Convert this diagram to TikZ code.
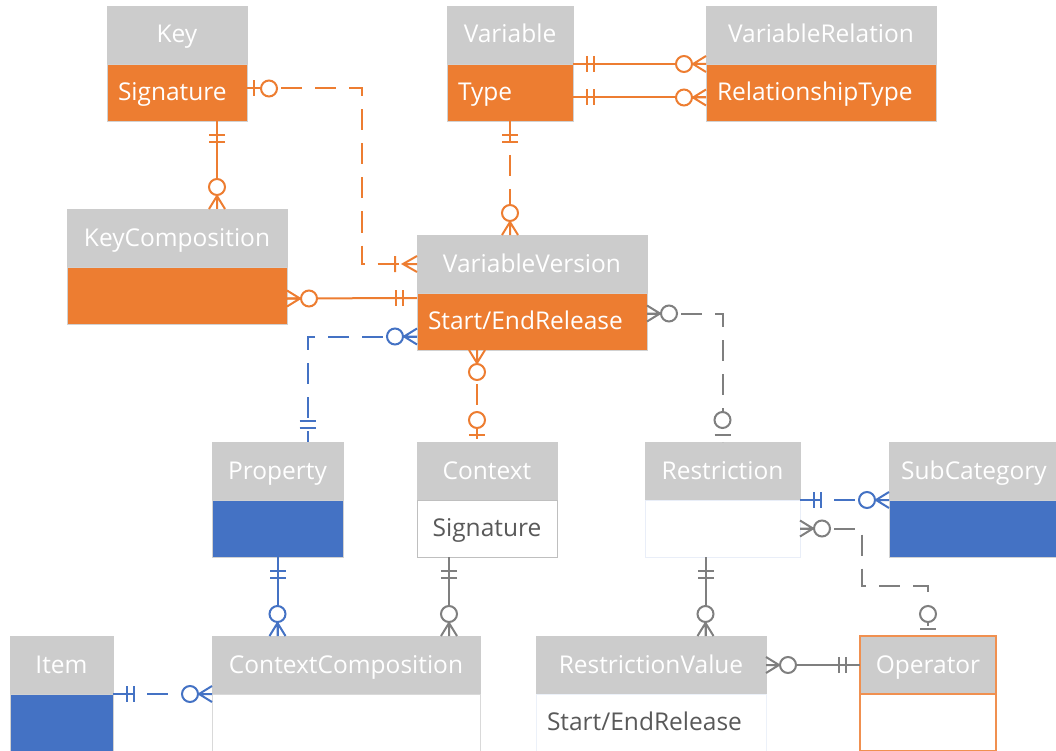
\documentclass[tikz,border=0pt]{standalone}
\usepackage{fontspec}
\setmainfont{Open Sans}
\usepackage{tikz}
\usetikzlibrary{positioning,calc}

\definecolor{erorange}{HTML}{ED7D31}
\definecolor{erblue}{HTML}{4472C4}
\definecolor{ergray}{HTML}{CCCCCC}
\definecolor{erline}{HTML}{7F7F7F}
\definecolor{ertext}{HTML}{595959}

\tikzset{
    hdr/.style={fill=ergray, draw=black!20, line width=0.75pt, text=white, minimum height=58pt,
        inner sep=0pt, outer sep=0pt, text height=18pt, text depth=2pt, font=\fontsize{24.5}{28}\selectfont},
    rowbox/.style={minimum height=57pt, inner xsep=11pt, inner ysep=0pt, outer sep=0pt, align=left,
        line width=0.75pt, text height=18pt, text depth=2pt, font=\fontsize{24.5}{28}\selectfont},
    orow/.style={rowbox, fill=erorange, draw=black!18, text=white},
    brow/.style={rowbox, fill=erblue, draw=black!18},
    wrow/.style={rowbox, fill=white, draw=black!25, text=ertext},
    opbox/.style={draw=erorange!85, line width=1.5pt},
    con/.style={line width=2pt},
    dashcon/.style={dash pattern=on 21pt off 13pt},
    % crow's foot ends, x points away from the table
    onlyone/.pic={\draw (14,-8) -- (14,8) (21,-8) -- (21,8);},
    zeroone/.pic={\draw (7,-8) -- (7,8); \draw[fill=white] (22,0) circle (8pt);},
    manyzero/.pic={\draw (0,-8) -- (13,0) -- (0,8) (0,0) -- (13,0); \draw[fill=white] (22,0) circle (8pt);},
    onemany/.pic={\draw (0,-8) -- (14,0) -- (0,8) (0,0) -- (14,0) (22,-8) -- (22,8);},
}

% table: header box and one row below it
\newcommand{\ertable}[8]{%
    \node[hdr, #5, minimum width=#4pt, anchor=north west] (#1) at (#2,#3) {#6};
    \node[#7, text width=#4pt-22pt, anchor=north west] (#1row) at (#1.south west) {#8};
}
% relationship: line first, then both ends on top
\newcommand{\erlink}[7]{%
    \draw[con, #1, #2] (#3) #4 (#5);
    \path[con, #1] (#3) pic#6 (#5) pic#7;
}

\begin{document}
\begin{tikzpicture}[x=1pt, y=-1pt]
    \useasboundingbox (0,0) rectangle (1056,751);

    % Tables
    \ertable{key}{107}{6}{140}{}{Key}{orow}{Signature}
    \ertable{var}{447}{6}{126}{}{Variable}{orow}{Type}
    \ertable{varrel}{706}{6}{230}{}{VariableRelation}{orow}{RelationshipType}
    \ertable{keycomp}{67}{209}{220}{}{KeyComposition}{orow}{}
    \ertable{varver}{417}{235}{230}{}{VariableVersion}{orow}{Start/EndRelease}
    \ertable{prop}{212}{442}{131}{}{Property}{brow}{}
    \ertable{ctx}{417}{442}{140}{}{Context}{wrow, align=center}{Signature}
    \ertable{restr}{645}{442}{155}{}{Restriction}{wrow, draw=erblue!12}{}
    \ertable{subcat}{889}{442}{170}{}{SubCategory}{brow}{}
    \ertable{item}{10}{636}{103}{}{Item}{brow}{}
    \ertable{ctxcomp}{212}{636}{268}{}{ContextComposition}{wrow, draw=black!15}{}
    \ertable{restrval}{536}{636}{230}{}{RestrictionValue}{wrow, draw=erblue!10}{Start/EndRelease}
    \ertable{oper}{860}{636}{136}{opbox}{Operator}{wrow, opbox}{}

    % Orange relationships
    \erlink{erorange}{solid}{[xshift=40pt]keyrow.south}{--}{[xshift=40pt]keycomp.north}{[rotate=-90]{onlyone}}{[rotate=90]{manyzero}}
    \erlink{erorange}{dashcon}{[yshift=4pt]keyrow.east}{-- ++(115,0) |-}{varver.west}{[rotate=0]{zeroone}}{[rotate=180]{onemany}}
    \erlink{erorange}{solid}{var.south east}{--}{varrel.south west}{[rotate=0]{onlyone}}{[rotate=180]{manyzero}}
    \erlink{erorange}{solid}{[yshift=-5pt]varrow.east}{--}{[yshift=-5pt]varrelrow.west}{[rotate=0]{onlyone}}{[rotate=180]{manyzero}}
    \erlink{erorange}{dashcon}{varrow.south}{--}{[xshift=-22pt]varver.north}{[rotate=-90]{onlyone}}{[rotate=90]{manyzero}}
    \erlink{erorange}{solid}{[yshift=-3pt]keycomprow.east}{--}{[yshift=-5pt]varver.south west}{[rotate=0]{manyzero}}{[rotate=180]{onlyone}}
    \erlink{erorange}{dashcon}{[xshift=-55pt]varverrow.south}{--}{[xshift=-10pt]ctx.north}{[rotate=-90]{manyzero}}{[rotate=90]{zeroone}}

    % Blue relationships
    \erlink{erblue}{dashcon}{[yshift=-15pt]varverrow.west}{-|}{[xshift=30pt]prop.north}{[rotate=180]{manyzero}}{[rotate=90]{onlyone}}
    \erlink{erblue}{dashcon}{restr.south east}{--}{subcat.south west}{[rotate=0]{onlyone}}{[rotate=180]{manyzero}}
    \erlink{erblue}{solid}{proprow.south}{--}{[xshift=-68.5pt]ctxcomp.north}{[rotate=-90]{onlyone}}{[rotate=90]{manyzero}}
    \erlink{erblue}{dashcon}{item.south east}{--}{ctxcomp.south west}{[rotate=0]{onlyone}}{[rotate=180]{manyzero}}

    % Gray relationships
    \erlink{erline}{dashcon}{[yshift=8pt]varverrow.east}{-|}{restr.north}{[rotate=0]{manyzero}}{[rotate=90]{zeroone}}
    \erlink{erline}{dashcon}{restrrow.east}{-- ++(62,0) -- ++(0,57) -|}{oper.north}{[rotate=0]{manyzero}}{[rotate=90]{zeroone}}
    \erlink{erline}{solid}{[xshift=-38pt]ctxrow.south}{--}{[xshift=103pt]ctxcomp.north}{[rotate=-90]{onlyone}}{[rotate=90]{manyzero}}
    \erlink{erline}{solid}{[xshift=-17pt]restrrow.south}{--}{[xshift=54.5pt]restrval.north}{[rotate=-90]{onlyone}}{[rotate=90]{manyzero}}
    \erlink{erline}{solid}{restrval.east}{--}{oper.west}{[rotate=0]{manyzero}}{[rotate=180]{onlyone}}
\end{tikzpicture}
\end{document}
